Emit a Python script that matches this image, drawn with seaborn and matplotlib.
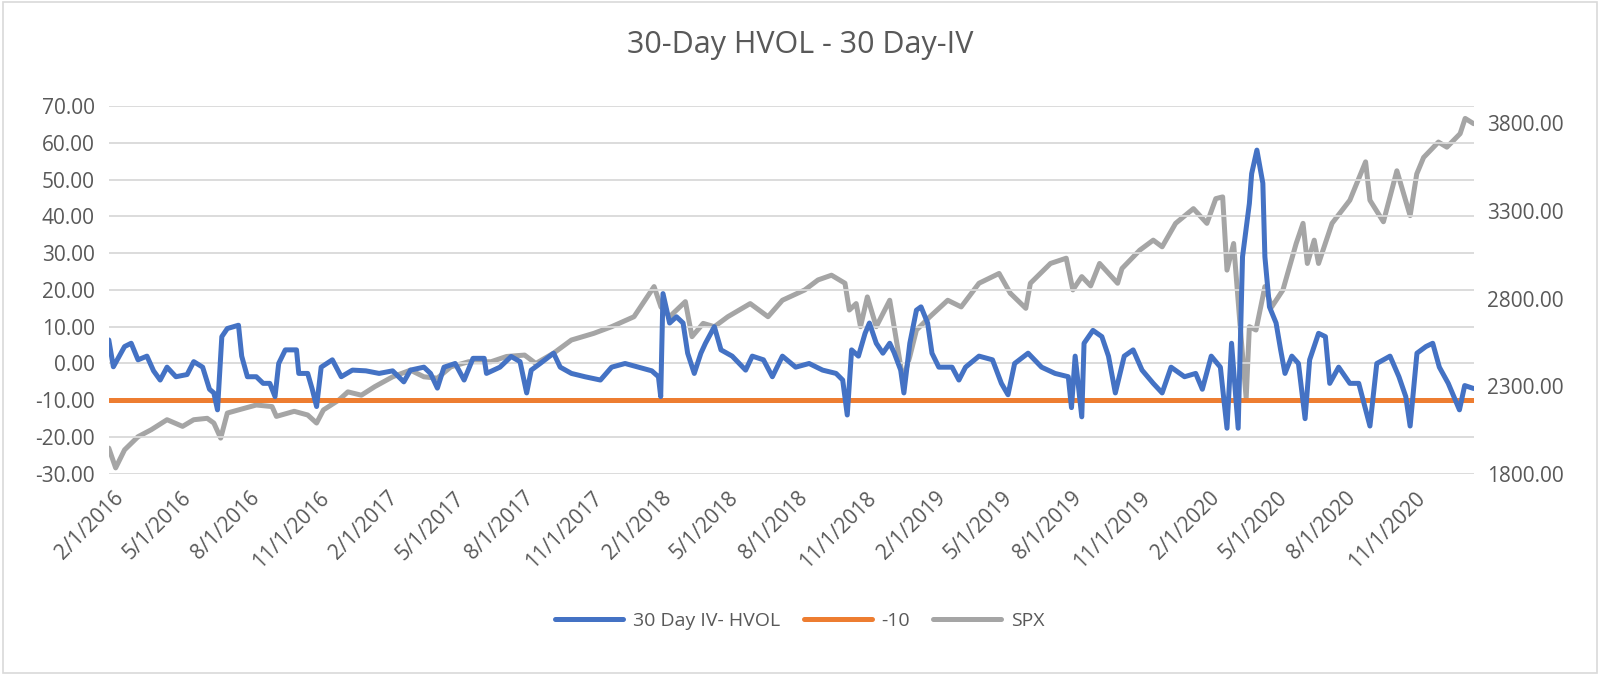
import numpy as np
import pandas as pd
import seaborn as sns
import matplotlib.pyplot as plt
import matplotlib.dates as mdates
from matplotlib.lines import Line2D
from matplotlib.patches import Rectangle

### DATA (x = months after 2/1/2016)

iv_months = [-0.18, 0.02, 0.51, 0.8, 1.1, 1.49, 1.78, 2.07, 2.37, 2.76, 3.25, 3.54, 3.93, 4.23, 4.42,
             4.58, 4.77, 5.01, 5.5, 5.64, 5.89, 6.28, 6.58, 6.87, 7.1, 7.26, 7.55, 8.04, 8.14, 8.53,
             8.73, 8.92, 9.12, 9.61, 10.0, 10.49, 11.08, 11.66, 12.25, 12.74, 13.03, 13.62, 13.91,
             14.21, 14.5, 14.99, 15.38, 15.77, 16.26, 16.36, 16.95, 17.44, 17.83, 18.12, 18.32,
             18.71, 19.3, 19.59, 20.08, 20.67, 21.35, 21.84, 22.43, 23.01, 23.6, 23.89, 23.99,
             24.09, 24.38, 24.68, 24.97, 25.17, 25.46, 25.75, 25.95, 26.34, 26.63, 27.12, 27.71,
             28.0, 28.49, 28.88, 29.32, 29.9, 30.49, 31.08, 31.67, 31.96, 32.16, 32.35, 32.65,
             32.94, 33.13, 33.43, 33.72, 34.02, 34.21, 34.5, 34.64, 34.9, 35.19, 35.39, 35.68,
             35.87, 36.17, 36.75, 37.05, 37.34, 37.93, 38.52, 38.91, 39.2, 39.49, 40.08, 40.67,
             41.26, 41.84, 41.98, 42.14, 42.43, 42.53, 42.92, 43.31, 43.6, 43.9, 44.29, 44.68,
             45.07, 45.56, 45.95, 46.34, 46.93, 47.42, 47.71, 48.1, 48.5, 48.79, 48.99, 49.28,
             49.47, 49.77, 49.87, 50.1, 50.36, 50.45, 50.65, 50.94, 51.14, 51.33, 51.63, 51.92,
             52.21, 52.41, 52.8, 53.1, 53.29, 53.68, 54.17, 54.56, 55.05, 55.35, 55.64, 55.93,
             56.32, 56.62, 56.81, 57.11, 57.5, 57.8, 58.09, 58.48, 58.97, 59.2, 59.59]
iv_hvol = [6.4, -0.9, 4.6, 5.5, 1, 2, -2, -4.5, -1, -3.6, -3, 0.5, -1, -7, -8,
           -12.6, 7.3, 9.5, 10.4, 2, -3.6, -3.6, -5.4, -5.4, -9, 0, 3.7, 3.7, -2.7, -2.7,
           -7, -11.7, -1, 1, -3.6, -1.8, -2, -2.7, -2, -5, -1.8, -1, -2.7,
           -6.7, -1, 0, -4.5, 1.4, 1.4, -2.7, -1, 1.9, 0.5, -8, -1.8,
           0, 2.8, -1, -2.7, -3.6, -4.5, -1, 0, -1, -2, -3.6, -9,
           19, 11, 12.7, 11, 2.8, -2.7, 2.8, 5.5, 10, 3.7, 2, -1.8,
           2, 1, -3.6, 2, -1, 0, -1.8, -2.7, -4.5, -14, 3.7, 2,
           8.2, 11, 5.5, 2.8, 5.5, 3, -1.8, -8, 5.5, 14.5, 15.4, 11,
           2.8, -1, -1, -4.5, -1, 2, 1, -5.4, -8.5, 0, 2.8, -1,
           -2.7, -3.6, -12, 2, -14.5, 5.5, 9, 7.3, 2, -8, 2, 3.7,
           -1.8, -5.4, -8, -1, -3.6, -2.7, -7, 2, -1, -17.6, 5.5, -17.6,
           29, 43.5, 51.6, 58, 49, 29, 15.4, 11, 3.7, -2.7, 2, 0,
           -15, 1, 8.2, 7.3, -5.4, -1, -5.4, -5.4, -17, 0, 1, 2,
           -3.6, -9, -17, 2.8, 4.6, 5.5, -1, -5.4, -12.6, -6, -6.8]

spx_months = [-0.18, 0.12, 0.51, 1.1, 1.68, 2.37, 3.05, 3.54, 4.13, 4.42, 4.72, 5.01, 5.5, 6.28,
              6.97, 7.16, 7.94, 8.53, 8.92, 9.22, 9.9, 10.29, 10.88, 11.47, 12.25, 13.03, 13.62,
              14.21, 14.8, 15.58, 16.56, 17.24, 18.03, 18.52, 19.3, 20.08, 21.06, 21.84, 22.82,
              23.7, 24.0, 24.38, 25.07, 25.36, 25.85, 26.34, 26.93, 27.91, 28.69, 29.32, 30.3,
              30.88, 31.47, 32.06, 32.25, 32.55, 32.74, 33.04, 33.43, 34.02, 34.6, 34.9, 35.19,
              35.78, 36.56, 37.15, 37.93, 38.81, 39.3, 39.98, 40.18, 41.06, 41.75, 42.04, 42.43,
              42.82, 43.21, 44.0, 44.19, 44.97, 45.56, 45.95, 46.54, 47.32, 47.91, 48.3, 48.6,
              48.79, 49.08, 49.38, 49.63, 49.77, 50.06, 50.45, 50.75, 51.24, 51.82, 52.12, 52.31,
              52.61, 52.8, 53.39, 54.17, 54.86, 55.05, 55.64, 56.23, 56.81, 57.1, 57.4, 58.05,
              58.42, 59.0, 59.22, 59.59]
spx = [1947, 1834, 1937, 2012, 2052, 2109, 2071, 2109, 2117, 2090, 2004, 2147, 2165, 2193,
       2184, 2128, 2157, 2136, 2090, 2165, 2222, 2268, 2249, 2298, 2354, 2392, 2354,
       2346, 2411, 2440, 2440, 2470, 2478, 2430, 2489, 2564, 2602, 2640, 2697,
       2869, 2753, 2697, 2783, 2583, 2659, 2640, 2697, 2772, 2697, 2791, 2850,
       2907, 2934, 2888, 2735, 2772, 2640, 2810, 2640, 2791, 2336, 2470, 2621,
       2697, 2791, 2753, 2888, 2944, 2831, 2745, 2888, 3001, 3031, 2850, 2926,
       2873, 3001, 2888, 2972, 3077, 3134, 3096, 3230, 3314, 3230, 3371, 3381,
       2963, 3115, 2621, 2231, 2640, 2621, 2869, 2753, 2850, 3115, 3230, 3001,
       3134, 3001, 3230, 3362, 3581, 3362, 3239, 3530, 3274, 3512, 3606, 3694,
       3665, 3742, 3829, 3799]

threshold = -10

start = pd.Timestamp('2016-02-01')
iv_dates = start + pd.to_timedelta(np.array(iv_months) * 30.44, unit='D')
spx_dates = start + pd.to_timedelta(np.array(spx_months) * 30.44, unit='D')

iv_df = pd.DataFrame({'date': iv_dates, 'value': iv_hvol})
iv_df['limit'] = threshold
spx_df = pd.DataFrame({'date': spx_dates, 'value': spx})

### PLOT

sns.set_style('white')
plt.rcParams['font.family'] = ['Open Sans', 'DejaVu Sans']
text_color = '#595959'
blue, orange, grey = '#4472C4', '#ED7D31', '#A5A5A5'

fig = plt.figure(figsize=(16, 6.75), dpi=100)
ax = fig.add_axes([0.068, 0.298, 0.853, 0.545])
ax2 = ax.twinx()

sns.lineplot(data=spx_df, x='date', y='value', ax=ax2, color=grey, linewidth=3.6, zorder=1)
sns.lineplot(data=iv_df, x='date', y='value', ax=ax, color=blue, linewidth=3.6, zorder=3)
sns.lineplot(data=iv_df, x='date', y='limit', ax=ax, color=orange, linewidth=3.6, zorder=2)

# grey series on the secondary axis sits behind the primary lines in Excel
ax.set_zorder(ax2.get_zorder() + 1)
ax.patch.set_visible(False)

ax.set_ylim(-30, 70)
ax.set_yticks(np.arange(-30, 71, 10))
ax.set_yticklabels([f'{v:.2f}' for v in np.arange(-30, 71, 10)])
ax2.set_ylim(1800, 3900)
ax2.set_yticks(np.arange(1800, 3801, 500))
ax2.set_yticklabels([f'{v:.2f}' for v in np.arange(1800, 3801, 500)])
ax.set_xlim(iv_dates[0], iv_dates[-1])

ax.xaxis.set_major_locator(mdates.MonthLocator(bymonth=[2, 5, 8, 11]))
ax.xaxis.set_major_formatter(mdates.DateFormatter('%-m/%-d/%Y'))
plt.setp(ax.get_xticklabels(), rotation=45, ha='right', rotation_mode='anchor')

ax.grid(axis='y', color='#D9D9D9', linewidth=1.3)
ax.set_axisbelow(True)
for a in (ax, ax2):
    for s in a.spines.values():
        s.set_visible(False)
    a.tick_params(length=0, labelsize=15, colors=text_color, pad=10)
    a.set_xlabel('')
    a.set_ylabel('')

fig.suptitle('30-Day HVOL - 30 Day-IV', x=0.5, y=0.955, fontsize=22, color=text_color)

handles = [Line2D([], [], color=blue, linewidth=3.6),
           Line2D([], [], color=orange, linewidth=3.6),
           Line2D([], [], color=grey, linewidth=3.6)]
fig.legend(handles, ['30 Day IV- HVOL', '-10', 'SPX'], loc='center', bbox_to_anchor=(0.5, 0.08),
           ncol=3, frameon=False, fontsize=14, labelcolor=text_color, handlelength=3.5,
           columnspacing=1.2, handletextpad=0.5)

fig.add_artist(Rectangle((0.002, 0.003), 0.996, 0.994, transform=fig.transFigure,
                         fill=False, edgecolor='#D9D9D9', linewidth=1.2))

fig.savefig('out.png', dpi=100)
